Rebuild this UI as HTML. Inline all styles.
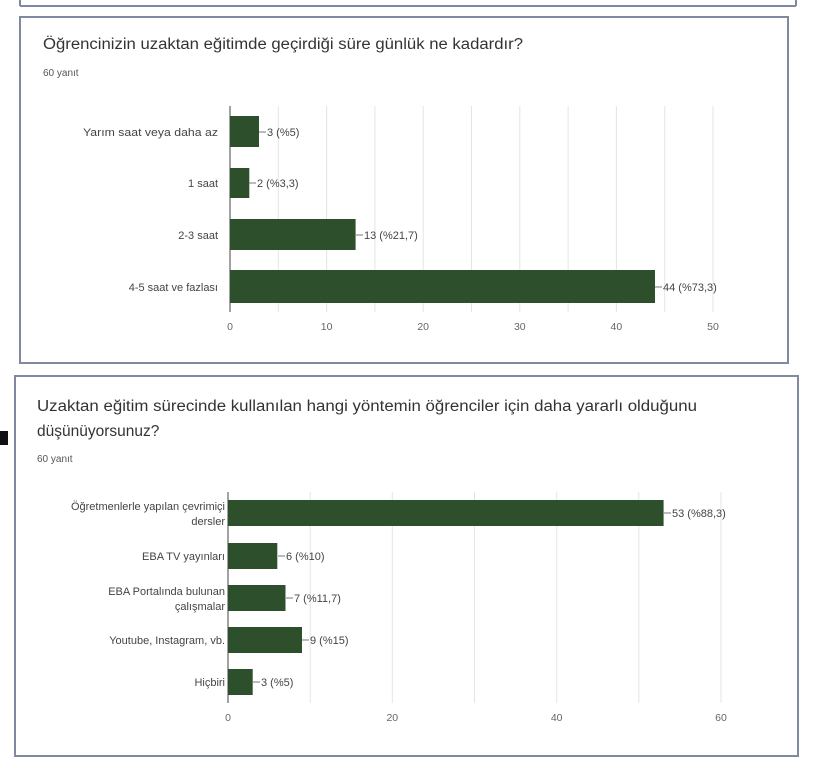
<!DOCTYPE html>
<html><head><meta charset="utf-8"><style>
html,body{margin:0;padding:0;background:#fff;width:834px;height:768px;overflow:hidden}
svg{display:block;font-family:"Liberation Sans",sans-serif}
</style></head><body>
<svg width="834" height="768" viewBox="0 0 834 768">
<rect x="0" y="0" width="834" height="768" fill="#fff"/>
<line x1="20" y1="6" x2="796" y2="6" stroke="#7f8aa0" stroke-width="2"/>
<line x1="20" y1="0" x2="20" y2="6" stroke="#7f8aa0" stroke-width="2"/>
<line x1="796" y1="0" x2="796" y2="6" stroke="#7f8aa0" stroke-width="2"/>
<rect x="20" y="17" width="768" height="346" fill="#fff" stroke="#7f8aa0" stroke-width="2"/>
<text x="43" y="49" font-size="15.5" fill="#333" textLength="480" lengthAdjust="spacingAndGlyphs">Öğrencinizin uzaktan eğitimde geçirdiği süre günlük ne kadardır?</text>
<text x="43" y="76" font-size="10" fill="#555">60 yanıt</text>
<g stroke="#e4e4e4" stroke-width="1">
<line x1="278.3" y1="106" x2="278.3" y2="312"/><line x1="326.6" y1="106" x2="326.6" y2="312"/>
<line x1="374.9" y1="106" x2="374.9" y2="312"/><line x1="423.2" y1="106" x2="423.2" y2="312"/>
<line x1="471.5" y1="106" x2="471.5" y2="312"/><line x1="519.8" y1="106" x2="519.8" y2="312"/>
<line x1="568.1" y1="106" x2="568.1" y2="312"/><line x1="616.4" y1="106" x2="616.4" y2="312"/>
<line x1="664.7" y1="106" x2="664.7" y2="312"/><line x1="713" y1="106" x2="713" y2="312"/>
</g>
<line x1="230" y1="106" x2="230" y2="312" stroke="#444" stroke-width="1"/>
<g fill="#2e4f2b">
<rect x="230" y="116" width="29" height="31"/>
<rect x="230" y="168" width="19.3" height="30"/>
<rect x="230" y="219" width="125.6" height="31"/>
<rect x="230" y="270" width="425" height="33"/>
</g>
<g stroke="#777" stroke-width="1">
<line x1="259" y1="132" x2="266" y2="132"/><line x1="249" y1="183" x2="256" y2="183"/>
<line x1="356" y1="235" x2="363" y2="235"/><line x1="655" y1="287" x2="662" y2="287"/>
</g>
<g font-size="11" fill="#444">
<text x="267" y="136">3 (%5)</text><text x="257" y="187">2 (%3,3)</text>
<text x="364" y="239">13 (%21,7)</text><text x="663" y="291">44 (%73,3)</text>
</g>
<g font-size="11" fill="#444" text-anchor="end">
<text x="218" y="136" textLength="135" lengthAdjust="spacingAndGlyphs">Yarım saat veya daha az</text><text x="218" y="187">1 saat</text>
<text x="218" y="239">2-3 saat</text><text x="218" y="291">4-5 saat ve fazlası</text>
</g>
<g font-size="10.5" fill="#666" text-anchor="middle">
<text x="230" y="330">0</text><text x="326.6" y="330">10</text><text x="423.2" y="330">20</text>
<text x="519.8" y="330">30</text><text x="616.4" y="330">40</text><text x="713" y="330">50</text>
</g>
<rect x="15" y="376" width="783" height="380" fill="#fff" stroke="#7f8aa0" stroke-width="2"/>
<rect x="0" y="431" width="8" height="14" fill="#111"/>
<text x="37" y="411" font-size="15.5" fill="#333" textLength="660" lengthAdjust="spacingAndGlyphs">Uzaktan eğitim sürecinde kullanılan hangi yöntemin öğrenciler için daha yararlı olduğunu</text>
<text x="37" y="436" font-size="15.5" fill="#333">düşünüyorsunuz?</text>
<text x="37" y="462" font-size="10" fill="#555">60 yanıt</text>
<g stroke="#e4e4e4" stroke-width="1">
<line x1="310.2" y1="492" x2="310.2" y2="703"/><line x1="392.3" y1="492" x2="392.3" y2="703"/>
<line x1="474.5" y1="492" x2="474.5" y2="703"/><line x1="556.7" y1="492" x2="556.7" y2="703"/>
<line x1="638.8" y1="492" x2="638.8" y2="703"/><line x1="721" y1="492" x2="721" y2="703"/>
</g>
<line x1="228" y1="492" x2="228" y2="703" stroke="#444" stroke-width="1"/>
<g fill="#2e4f2b">
<rect x="228" y="500" width="435.6" height="26"/>
<rect x="228" y="543" width="49.3" height="26"/>
<rect x="228" y="585" width="57.5" height="26"/>
<rect x="228" y="627" width="74" height="26"/>
<rect x="228" y="669" width="24.7" height="26"/>
</g>
<g stroke="#777" stroke-width="1">
<line x1="664" y1="513" x2="671" y2="513"/><line x1="278" y1="556" x2="285" y2="556"/>
<line x1="286" y1="598" x2="293" y2="598"/><line x1="302" y1="640" x2="309" y2="640"/>
<line x1="253" y1="682" x2="260" y2="682"/>
</g>
<g font-size="11" fill="#444">
<text x="672" y="517">53 (%88,3)</text><text x="286" y="560">6 (%10)</text>
<text x="294" y="602">7 (%11,7)</text><text x="310" y="644">9 (%15)</text>
<text x="261" y="686">3 (%5)</text>
</g>
<g font-size="11" fill="#444" text-anchor="end">
<text x="225" y="510">Öğretmenlerle yapılan çevrimiçi</text><text x="225" y="525">dersler</text>
<text x="225" y="560">EBA TV yayınları</text>
<text x="225" y="595">EBA Portalında bulunan</text><text x="225" y="610">çalışmalar</text>
<text x="225" y="644">Youtube, Instagram, vb.</text>
<text x="225" y="686">Hiçbiri</text>
</g>
<g font-size="10.5" fill="#666" text-anchor="middle">
<text x="228" y="721">0</text><text x="392.3" y="721">20</text>
<text x="556.7" y="721">40</text><text x="721" y="721">60</text>
</g>
</svg>
</body></html>
